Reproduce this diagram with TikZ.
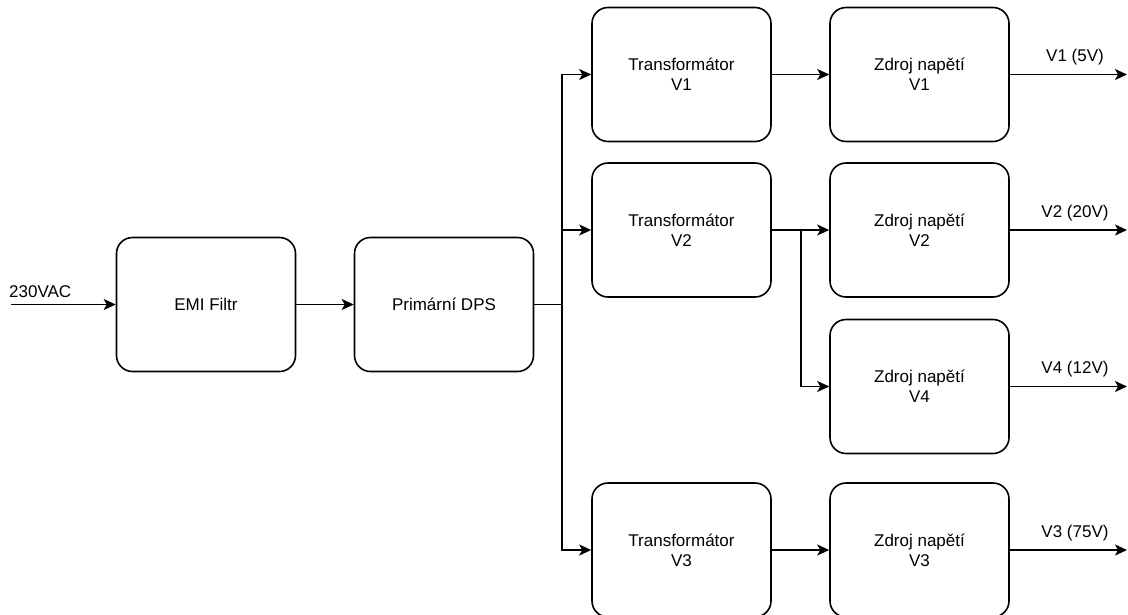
\documentclass[tikz,border=0pt]{standalone}
\usepackage{fontspec}
\setmainfont{Liberation Sans}
\usetikzlibrary{arrows.meta}
\tikzset{
  blk/.style={draw, line width=1.6pt, rounded corners=16pt, minimum width=179pt, minimum height=134pt,
    align=center, inner sep=0pt, font=\fontsize{17pt}{20pt}\selectfont},
  conn/.style={line width=1.6pt, -{Stealth[length=12pt,width=11pt,inset=3pt]}},
  lbl/.style={font=\fontsize{17pt}{20pt}\selectfont, inner sep=0pt}
}
\begin{document}
\begin{tikzpicture}[x=1pt,y=-1pt]
\useasboundingbox (0,0) rectangle (1128,614);
\node[blk] (emi) at (206,304.5) {EMI Filtr};
\node[blk] (dps) at (444,304.5) {Primární DPS};
\node[blk] (t1) at (681.5,74.5) {Transformátor\\V1};
\node[blk] (z1) at (919.5,74.5) {Zdroj napětí\\V1};
\node[blk] (t2) at (681.5,230) {Transformátor\\V2};
\node[blk] (z2) at (919.5,230) {Zdroj napětí\\V2};
\node[blk] (z4) at (919.5,386.5) {Zdroj napětí\\V4};
\node[blk] (t3) at (681.5,550) {Transformátor\\V3};
\node[blk] (z3) at (919.5,550) {Zdroj napětí\\V3};

\coordinate (in) at (11,304.5);
\coordinate (j1) at (562,304.5);
\coordinate (j2) at (801,230);
\coordinate (o1) at (1127,74.5);
\coordinate (o2) at (1127,230);
\coordinate (o4) at (1127,386.5);
\coordinate (o3) at (1127,550);

\node[lbl, anchor=base west] (inl) at (9,297) {230VAC};
\node[lbl] (l1) at (1075,57) {V1 (5V)};
\node[lbl] (l2) at (1075,213) {V2 (20V)};
\node[lbl] (l4) at (1075,369.5) {V4 (12V)};
\node[lbl] (l3) at (1075,533) {V3 (75V)};

\draw[conn] (in) -- (emi.west);
\draw[conn] (emi.east) -- (dps.west);
\draw[line width=1.6pt] (dps.east) -- (j1);
\draw[conn] (j1) |- (t1.west);
\draw[conn] (j1) |- (t2.west);
\draw[conn] (j1) |- (t3.west);
\draw[conn] (t1.east) -- (z1.west);
\draw[conn] (t2.east) -- (z2.west);
\draw[conn] (j2) |- (z4.west);
\draw[conn] (t3.east) -- (z3.west);
\draw[conn] (z1.east) -- (o1);
\draw[conn] (z2.east) -- (o2);
\draw[conn] (z4.east) -- (o4);
\draw[conn] (z3.east) -- (o3);
\end{tikzpicture}
\end{document}
